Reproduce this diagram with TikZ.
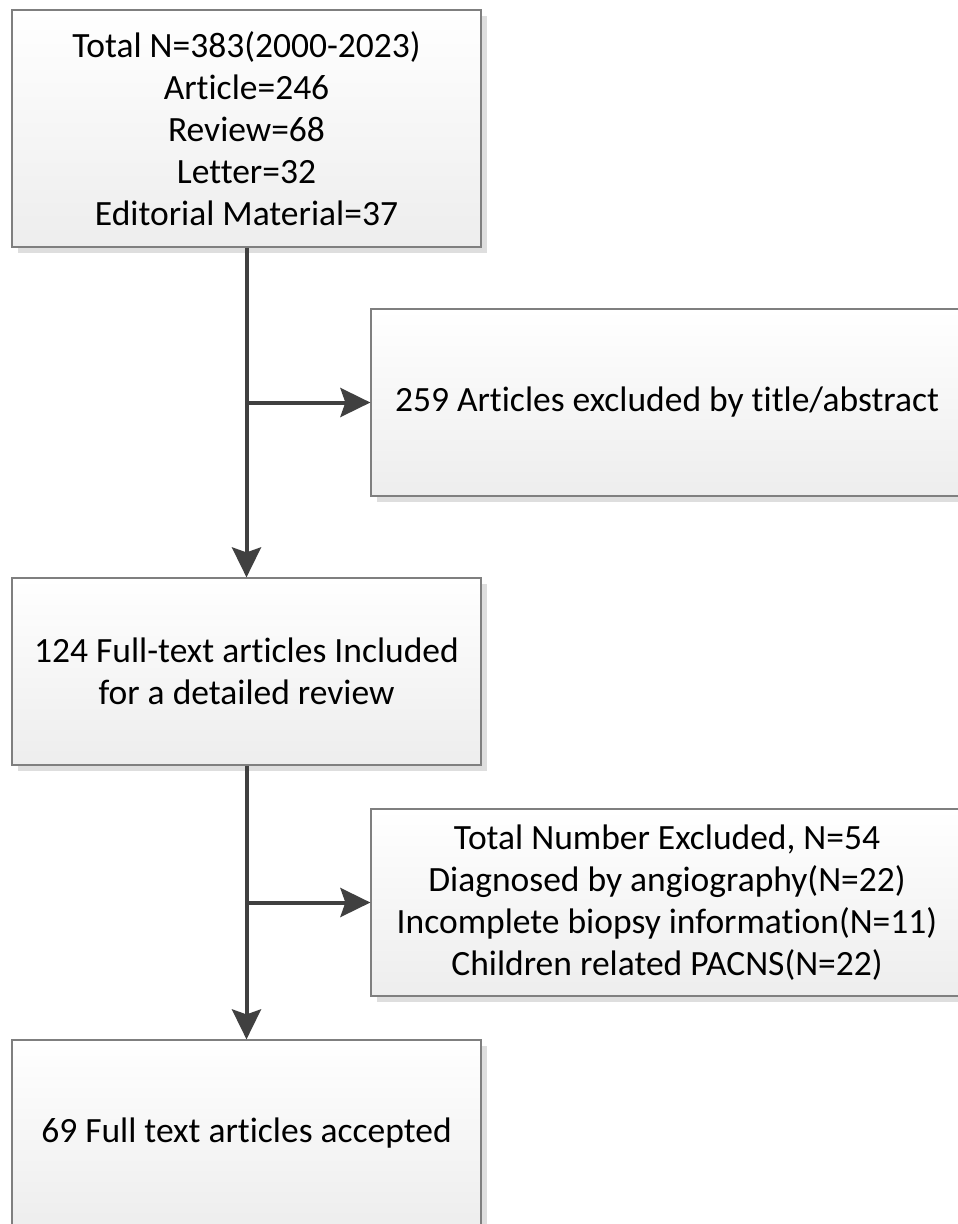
\documentclass[tikz,border=0pt]{standalone}
\usepackage{fontspec}
\setmainfont[RawFeature={-liga;-clig;-dlig;-calt}]{Carlito}
\usetikzlibrary{arrows.meta,shadows}
\definecolor{linec}{HTML}{404040}
\definecolor{boxborder}{HTML}{7F7F7F}
\tikzset{
  flowbox/.style={draw=boxborder, line width=1.2pt, top color=white, bottom color=black!7,
    drop shadow={shadow xshift=6pt, shadow yshift=-6pt, fill=black!13, opacity=1},
    minimum height=187pt, inner sep=0pt, font=\fontsize{35.5}{42}\selectfont, align=center},
  flowarrow/.style={draw=linec, line width=4pt, -{Stealth[length=30pt,width=29pt,inset=5pt]}}
}
\begin{document}
\begin{tikzpicture}[x=1pt,y=-1pt]
\useasboundingbox (0,0) rectangle (958,1224);
\clip (0,0) rectangle (958,1224);
\node[flowbox, minimum width=469pt, minimum height=237pt] (b1) at (246.5,128.5)
  {Total N=383(2000-2023)\\Article=246\\Review=68\\Letter=32\\Editorial Material=37};
\node[flowbox, minimum width=592pt] (b2) at (667,402.5) {259 Articles excluded by title/abstract};
\node[flowbox, minimum width=469pt] (b3) at (246.5,671.5)
  {124 Full-text articles Included\\for a detailed review};
\node[flowbox, minimum width=592pt] (b4) at (667,902.5)
  {Total Number Excluded, N=54\\Diagnosed by angiography(N=22)\\Incomplete biopsy information(N=11)\\Children related PACNS(N=22)};
\node[flowbox, minimum width=469pt] (b5) at (246.5,1133.5) {69 Full text articles accepted};
\coordinate (j1) at (b1.south |- b2.west);
\coordinate (j2) at (b3.south |- b4.west);
\draw[flowarrow] (b1.south) -- (b3.north);
\draw[flowarrow] (j1) -- (b2.west);
\draw[flowarrow] (b3.south) -- (b5.north);
\draw[flowarrow] (j2) -- (b4.west);
\end{tikzpicture}
\end{document}
